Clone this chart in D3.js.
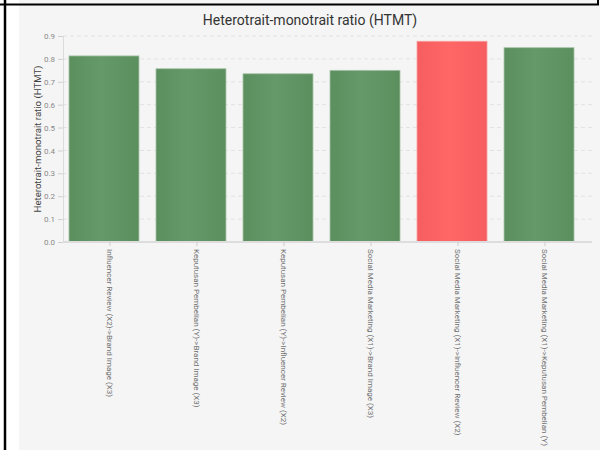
<!DOCTYPE html>
<html>
<head>
<meta charset="utf-8">
<script src="https://cdn.jsdelivr.net/npm/d3@7"></script>
<style>
  body { margin: 0; background: #fff; }
  svg { display: block; font-family: Roboto, "Open Sans", sans-serif; }
</style>
</head>
<body>
<div class="htmt-chart"></div>
<script>
// values
let categories = [
    "Influencer Review (X2)->Brand Image (X3)",
    "Keputusan Pembelian (Y)->Brand Image (X3)",
    "Keputusan Pembelian (Y)->Influencer Review (X2)",
    "Social Media Marketing (X1)->Brand Image (X3)",
    "Social Media Marketing (X1)->Influencer Review (X2)",
    "Social Media Marketing (X1)->Keputusan Pembelian (Y)"
]
let htmtValues = [0.813, 0.757, 0.735, 0.750, 0.877, 0.849]
let yTicks = [0.0, 0.1, 0.2, 0.3, 0.4, 0.5, 0.6, 0.7, 0.8, 0.9]
let threshold = 0.85

let dims = {
    width: 600,
    height: 450,
    margin: { top: 36, bottom: 208, left: 63, right: 8 }
}

var svg = d3.select(".htmt-chart")
    .append("svg")
    .attr("width", dims.width)
    .attr("height", dims.height)

// panel background + frame lines
svg.append("rect")
    .attr("x", 19).attr("y", 0)
    .attr("width", dims.width - 19).attr("height", dims.height)
    .attr("fill", "#f5f5f5")
svg.append("line").attr("x1", 0).attr("x2", 599).attr("y1", 4.5).attr("y2", 4.5)
    .attr("stroke", "#000").attr("stroke-width", 2)
svg.append("line").attr("x1", 5).attr("x2", 5).attr("y1", 0).attr("y2", 450)
    .attr("stroke", "#000").attr("stroke-width", 2.5)
svg.append("line").attr("x1", 598).attr("x2", 598).attr("y1", 0).attr("y2", 5)
    .attr("stroke", "#000").attr("stroke-width", 2)

let innerW = dims.width - dims.margin.left - dims.margin.right
let innerH = dims.height - dims.margin.top - dims.margin.bottom

const defs = svg.append("defs")
function addGrad(id, edge, mid) {
    let g = defs.append("linearGradient").attr("id", id)
        .attr("x1", "0%").attr("x2", "100%").attr("y1", "0%").attr("y2", "0%")
    g.append("stop").attr("offset", "0%").attr("stop-color", edge)
    g.append("stop").attr("offset", "45%").attr("stop-color", mid)
    g.append("stop").attr("offset", "100%").attr("stop-color", edge)
}
addGrad("gGreen", "#5c8f5e", "#66996a")
addGrad("gRed", "#f65d5f", "#ff6666")

const container = svg.append("g")
    .attr("transform", `translate(${dims.margin.left},${dims.margin.top})`)

var xScale = d3.scaleBand()
    .domain(categories)
    .range([0, innerW])
    .paddingOuter(0.04)

var yScale = d3.scaleLinear()
    .domain([0, 0.9])
    .range([innerH, 0])

// dashed grid
container.selectAll("line.grid")
    .data(yTicks.slice(1))
    .enter()
    .append("line")
    .attr("class", "grid")
    .attr("x1", 0).attr("x2", innerW)
    .attr("y1", d => yScale(d)).attr("y2", d => yScale(d))
    .attr("stroke", "#e2e2e2")
    .attr("stroke-dasharray", "4,3")

// y axis
const yAxisGroup = container.append("g")
    .call(d3.axisLeft(yScale).tickValues(yTicks).tickFormat(d3.format(".1f")).tickSize(5).tickPadding(3))
yAxisGroup.select(".domain").attr("stroke", "#dcdcdc")
yAxisGroup.selectAll(".tick line").attr("stroke", "#cfcfcf")
yAxisGroup.selectAll("text")
    .attr("font-size", "8px")
    .attr("fill", "#8a8a8a")
    .attr("font-family", "Roboto, sans-serif")

// bars (drawn slightly left of the tick like the original)
let barW = 70
container.selectAll("rect.bar")
    .data(categories)
    .enter()
    .append("rect")
    .attr("class", "bar")
    .attr("x", (d) => xScale(d) + xScale.bandwidth() / 2 - 41)
    .attr("y", (d, i) => yScale(htmtValues[i]))
    .attr("width", barW)
    .attr("height", (d, i) => innerH - yScale(htmtValues[i]))
    .attr("fill", (d, i) => htmtValues[i] > threshold ? "url(#gRed)" : "url(#gGreen)")
    .attr("stroke", (d, i) => htmtValues[i] > threshold ? "#f9a0a0" : "#a9c4aa")
    .attr("stroke-width", 0.8)

// x axis
const xAxisGroup = container.append("g")
    .attr("transform", `translate(0, ${innerH})`)
    .call(d3.axisBottom(xScale).tickSize(4).tickPadding(0))
xAxisGroup.select(".domain").attr("stroke", "#dddddd").attr("stroke-width", 2)
    .attr("d", `M0,0H${innerW}`)
xAxisGroup.selectAll(".tick line").attr("stroke", "#cccccc")
xAxisGroup.selectAll("text")
    .attr("transform", "rotate(90)")
    .attr("x", 7)
    .attr("y", 0)
    .attr("dy", "0.32em")
    .attr("text-anchor", "start")
    .attr("font-size", "8px")
    .attr("fill", "#707070")
    .attr("font-family", "Roboto, sans-serif")

// title
svg.append("text")
    .attr("x", 310)
    .attr("y", 25)
    .attr("text-anchor", "middle")
    .attr("font-size", "14px")
    .attr("fill", "#333")
    .text("Heterotrait-monotrait ratio (HTMT)")

svg.append("text")
    .attr("transform", "rotate(-90)")
    .attr("x", -(dims.margin.top + innerH / 2))
    .attr("y", 41)
    .attr("text-anchor", "middle")
    .attr("font-size", "9.6px")
    .attr("fill", "#444")
    .text("Heterotrait-monotrait ratio (HTMT)")
</script>
</body>
</html>
